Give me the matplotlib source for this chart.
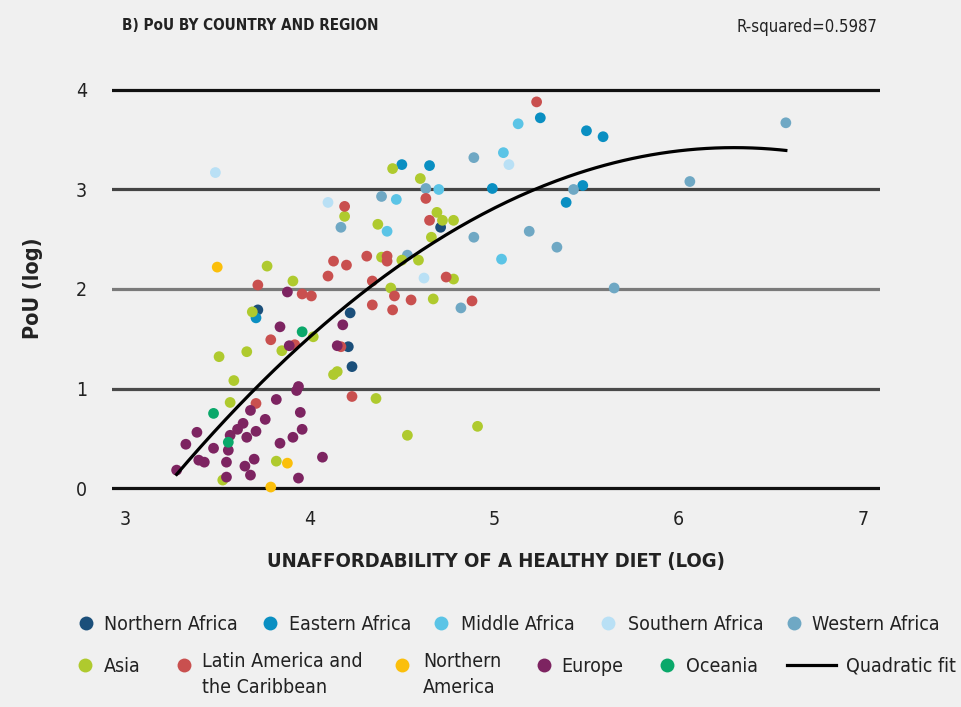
import matplotlib
matplotlib.use("Agg")
import matplotlib.pyplot as plt
from matplotlib.lines import Line2D
import numpy as np

plt.rcParams['font.family'] = ['DejaVu Sans']
plt.rcParams['font.stretch'] = 'condensed'

# values (log unaffordability, log PoU)
northern_africa_x = [3.72, 4.22, 4.21, 4.23, 4.71]
northern_africa_y = [1.79, 1.76, 1.42, 1.22, 2.62]

eastern_africa_x = [3.71, 4.50, 4.65, 4.99, 5.25, 5.50, 5.59, 5.48, 5.39]
eastern_africa_y = [1.71, 3.25, 3.24, 3.01, 3.72, 3.59, 3.53, 3.04, 2.87]

middle_africa_x = [5.13, 5.05, 4.70, 4.47, 4.42, 5.04]
middle_africa_y = [3.66, 3.37, 3.00, 2.90, 2.58, 2.30]

southern_africa_x = [3.49, 4.10, 5.08, 4.62]
southern_africa_y = [3.17, 2.87, 3.25, 2.11]

western_africa_x = [4.89, 4.63, 4.39, 4.17, 4.89, 4.53, 4.82, 5.19, 5.34, 5.43, 5.65, 6.06, 6.58]
western_africa_y = [3.32, 3.01, 2.93, 2.62, 2.52, 2.34, 1.81, 2.58, 2.42, 3.00, 2.01, 3.08, 3.67]

asia_x = [3.57, 3.82, 3.53, 3.77, 3.91, 3.69, 4.02, 3.85, 3.51, 3.66, 4.15, 4.13, 3.59,
          4.45, 4.60, 4.19, 4.69, 4.72, 4.78, 4.37, 4.66, 4.39, 4.50, 4.59, 4.78, 4.44,
          4.67, 4.36, 4.53, 4.91]
asia_y = [0.86, 0.27, 0.08, 2.23, 2.08, 1.77, 1.52, 1.38, 1.32, 1.37, 1.17, 1.14, 1.08,
          3.21, 3.11, 2.73, 2.77, 2.69, 2.69, 2.65, 2.52, 2.32, 2.29, 2.29, 2.10, 2.01,
          1.90, 0.90, 0.53, 0.62]

latin_x = [3.71, 4.23, 3.72, 3.96, 4.01, 4.13, 4.20, 4.10, 3.79, 3.92, 4.17, 4.19, 4.63,
           4.65, 4.31, 4.42, 4.42, 4.74, 4.34, 4.46, 4.55, 4.88, 4.34, 4.45, 5.23]
latin_y = [0.85, 0.92, 2.04, 1.95, 1.93, 2.28, 2.24, 2.13, 1.49, 1.44, 1.42, 2.83, 2.91,
           2.69, 2.33, 2.33, 2.28, 2.12, 2.08, 1.93, 1.89, 1.88, 1.84, 1.79, 3.88]

north_america_x = [3.50, 3.88, 3.79]
north_america_y = [2.22, 0.25, 0.01]

europe_x = [3.82, 3.93, 3.68, 3.76, 3.95, 3.39, 3.33, 3.64, 3.61, 3.71, 3.66, 3.96, 3.91,
            3.84, 3.48, 3.56, 3.40, 3.43, 3.55, 3.70, 3.65, 3.68, 4.07, 3.28, 3.55, 3.94,
            3.57, 3.88, 3.84, 3.89, 4.18, 4.15, 3.94]
europe_y = [0.89, 0.98, 0.78, 0.69, 0.76, 0.56, 0.44, 0.65, 0.59, 0.57, 0.51, 0.59, 0.51,
            0.45, 0.40, 0.38, 0.28, 0.26, 0.26, 0.29, 0.22, 0.13, 0.31, 0.18, 0.11, 0.10,
            0.53, 1.97, 1.62, 1.43, 1.64, 1.43, 1.02]

oceania_x = [3.48, 3.56, 3.96]
oceania_y = [0.75, 0.46, 1.57]

# quadratic fit y = a*x^2 + b*x + c
fit_coef = [-0.36, 4.536, -10.868]
fit_range = (3.28, 6.58)
r_squared = 0.5987

series = [
    ("Northern Africa", northern_africa_x, northern_africa_y, "#1b4f7a"),
    ("Eastern Africa", eastern_africa_x, eastern_africa_y, "#0a8fc2"),
    ("Middle Africa", middle_africa_x, middle_africa_y, "#5bc4e6"),
    ("Southern Africa", southern_africa_x, southern_africa_y, "#b9e0f5"),
    ("Western Africa", western_africa_x, western_africa_y, "#6fa8c4"),
    ("Asia", asia_x, asia_y, "#afca2e"),
    ("Latin America and\nthe Caribbean", latin_x, latin_y, "#c9504f"),
    ("Northern\nAmerica", north_america_x, north_america_y, "#fbbf0b"),
    ("Europe", europe_x, europe_y, "#7d2461"),
    ("Oceania", oceania_x, oceania_y, "#0aa86a"),
]

bg = "#f0f0f0"
txt = "#222222"
W, H = 961, 707
fig = plt.figure(figsize=(W / 100, H / 100), dpi=100, facecolor=bg)
ax = fig.add_axes([112 / W, 1 - 496 / H, 768 / W, 416 / H], facecolor=bg)

ax.set_xlim(2.93, 7.09)
ax.set_ylim(-0.08, 4.1)

grid_cols = {0: "#111111", 1: "#4a4a4a", 2: "#7a7a7a", 3: "#444444", 4: "#111111"}
for yv, c in grid_cols.items():
    ax.axhline(yv, color=c, lw=2.3, zorder=1)

for name, xs, ys, col in series:
    ax.scatter(xs, ys, s=60, color=col, edgecolors="none", zorder=3)

xf = np.linspace(fit_range[0], fit_range[1], 200)
ax.plot(xf, np.polyval(fit_coef, xf), color="black", lw=2.3, zorder=4)

for s in ax.spines.values():
    s.set_visible(False)
ax.set_xticks([3, 4, 5, 6, 7])
ax.set_yticks([0, 1, 2, 3, 4])
ax.tick_params(length=0, labelsize=14, colors=txt)
ax.tick_params(axis="y", pad=18)
ax.tick_params(axis="x", pad=10)

ax.set_xlabel("UNAFFORDABILITY OF A HEALTHY DIET (LOG)", fontsize=14.5, fontweight="bold",
              labelpad=17, color=txt)
ax.set_ylabel("PoU (log)", fontsize=15.5, fontweight="bold", labelpad=24, color=txt)

fig.text(122 / W, 1 - 25 / H, "B) PoU BY COUNTRY AND REGION", fontsize=11,
         fontweight="bold", va="center", ha="left", color=txt)
fig.text(877 / W, 1 - 27 / H, f"R-squared={r_squared}", fontsize=12,
         va="center", ha="right", color=txt)

# manual legend
leg_pos = [(86, 104, 623), (270, 289, 623), (441, 461, 623), (608, 628, 623), (794, 812, 623),
           (85, 104, 665), (184, 202, 665), (402, 423, 665), (544, 561, 665), (667, 686, 665)]
leg_size = 14
for (name, xs, ys, col), (mx, tx, py) in zip(series, leg_pos):
    fig.add_artist(Line2D([mx / W], [1 - py / H], marker="o", markersize=10, color=col,
                          markeredgecolor="none", linestyle="none", transform=fig.transFigure))
    if "\n" in name:
        fig.text(tx / W, 1 - (py - 13) / H, name, fontsize=leg_size, va="top", ha="left",
                 color=txt, linespacing=1.45)
    else:
        fig.text(tx / W, 1 - (py + 1) / H, name, fontsize=leg_size, va="center", ha="left",
                 color=txt)
fig.add_artist(Line2D([787 / W, 836 / W], [1 - 665 / H, 1 - 665 / H], color="black", lw=2.3,
                      transform=fig.transFigure))
fig.text(846 / W, 1 - 666 / H, "Quadratic fit", fontsize=leg_size, va="center", ha="left",
         color=txt)

fig.savefig("out.png", dpi=100, facecolor=bg)
